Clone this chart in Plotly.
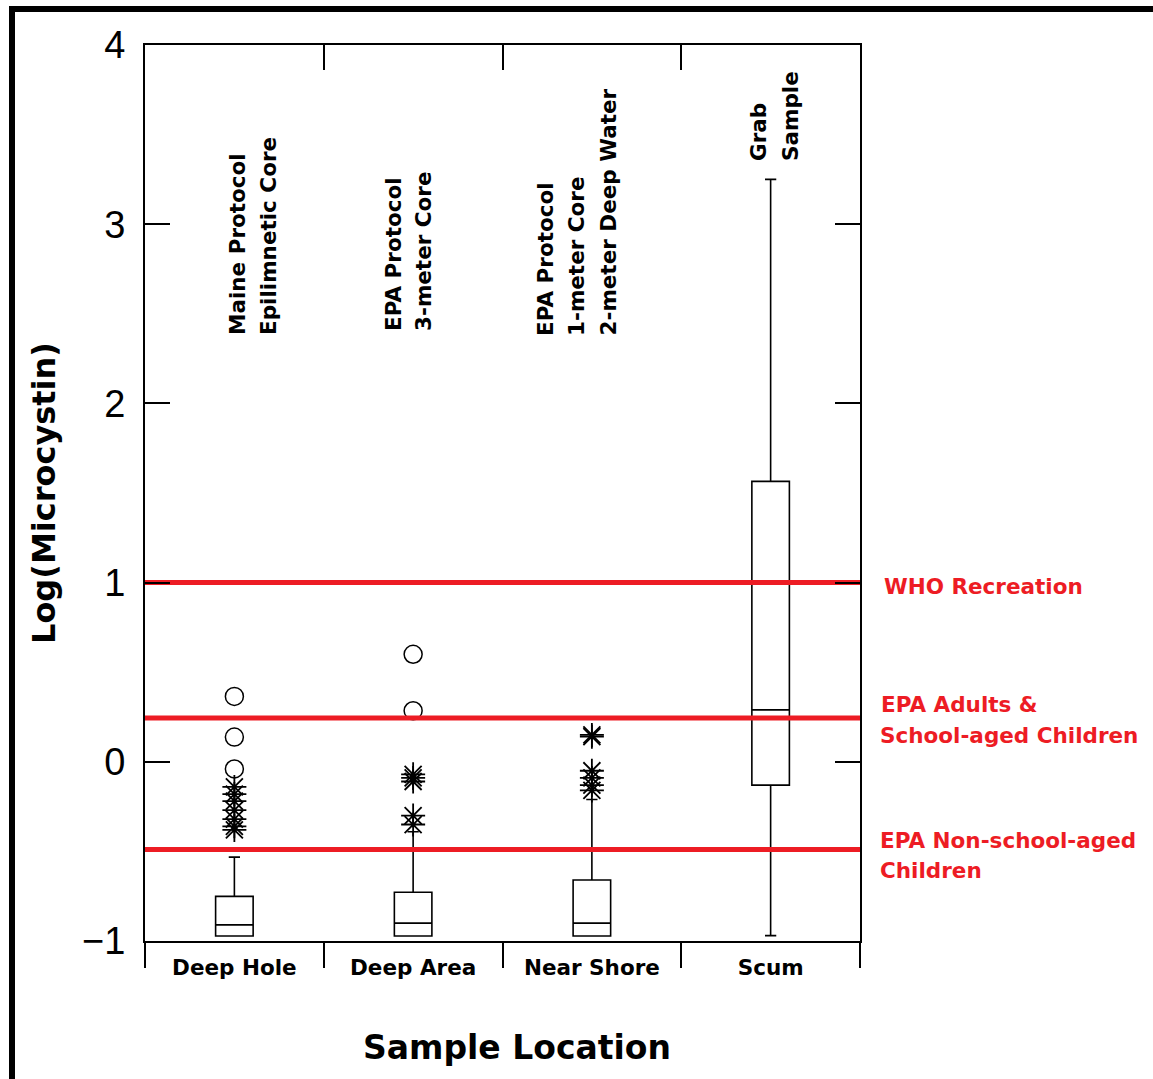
import plotly.graph_objects as go

# ---------------- data ----------------
categories = ["Deep Hole", "Deep Area", "Near Shore", "Scum"]
q1 = [-0.972, -0.972, -0.972, -0.13]
median = [-0.91, -0.90, -0.90, 0.29]
q3 = [-0.751, -0.728, -0.66, 1.565]
lower_fence = [-0.972, -0.972, -0.972, -0.97]
upper_fence = [-0.532, -0.39, -0.21, 3.25]

# far outliers (open circles)
deep_hole_far = [0.365, 0.138, -0.04]
deep_area_far = [0.60, 0.285]
# near outliers (asterisks)
deep_hole_near = [-0.14, -0.18, -0.22, -0.27, -0.32, -0.36, -0.38]
deep_area_near = [-0.07, -0.09, -0.11, -0.30, -0.35]
near_shore_near = [0.14, 0.15, -0.05, -0.09, -0.13, -0.16]

# guideline levels (log microcystin)
guide_values = [1.0, 0.245, -0.49]
guide_labels = [["WHO Recreation"],
                ["EPA Adults &", "School-aged Children"],
                ["EPA Non-school-aged", "Children"]]

protocol_labels = [["Maine Protocol", "Epilimnetic Core"],
                   ["EPA Protocol", "3-meter Core"],
                   ["EPA Protocol", "1-meter Core", "2-meter Deep Water"],
                   ["Grab", "Sample"]]

y_ticks = [-1, 0, 1, 2, 3, 4]

# ---------------- layout geometry ----------------
W, H = 1153, 1079
L, R, T, B = 145, 860, 45, 941
RED = "#ED1C24"
BOLD = "DejaVu Sans"


def px(xp):
    return (xp - L) / (R - L)


def py(yp):
    return (B - yp) / (B - T)


fig = go.Figure()

fig.add_trace(go.Box(
    x=categories, q1=q1, median=median, q3=q3,
    lowerfence=lower_fence, upperfence=upper_fence,
    boxpoints=False, width=0.21, whiskerwidth=0.3,
    line=dict(color="black", width=1.6), fillcolor="rgba(255,255,255,0)",
    showlegend=False, hoverinfo="skip"))

far_x = ["Deep Hole"] * len(deep_hole_far) + ["Deep Area"] * len(deep_area_far)
far_y = deep_hole_far + deep_area_far
fig.add_trace(go.Scatter(
    x=far_x, y=far_y, mode="markers", showlegend=False,
    marker=dict(symbol="circle-open", size=18, color="black",
                line=dict(color="black", width=1.5))))

near_x = (["Deep Hole"] * len(deep_hole_near) + ["Deep Area"] * len(deep_area_near)
          + ["Near Shore"] * len(near_shore_near))
near_y = deep_hole_near + deep_area_near + near_shore_near
fig.add_trace(go.Scatter(
    x=near_x, y=near_y, mode="markers", showlegend=False,
    marker=dict(symbol="asterisk-open", size=20, color="black",
                line=dict(color="black", width=1.8))))

for v in guide_values:
    fig.add_trace(go.Scatter(
        x=[-0.5, 3.5], y=[v, v], mode="lines", xaxis="x2", yaxis="y",
        line=dict(color=RED, width=5), showlegend=False, hoverinfo="skip"))

annotations = []
# red guideline labels
label_pos = [[(882, 586)], [(879, 704), (878, 735)], [(878, 840), (878, 870)]]
for lines, poss in zip(guide_labels, label_pos):
    for txt, (xp, yp) in zip(lines, poss):
        annotations.append(dict(
            text=txt, x=px(xp), y=py(yp), xref="paper", yref="paper",
            xanchor="left", yanchor="middle", showarrow=False,
            font=dict(family=BOLD, size=21.5, color=RED, weight="bold")))

# rotated protocol labels
col_x = [[238, 269], [393, 423], [545, 576, 608], [758, 790]]
col_bottom = [337, 333, 338, 163]
for lines, xs, yb in zip(protocol_labels, col_x, col_bottom):
    for txt, xp in zip(lines, xs):
        annotations.append(dict(
            text=txt, x=px(xp), y=py(yb), xref="paper", yref="paper",
            xanchor="center", yanchor="bottom", textangle=-90, showarrow=False,
            font=dict(family=BOLD, size=21.5, color="black", weight="bold")))

# axis titles
annotations.append(dict(
    text="Log(Microcystin)", x=px(44), y=py(493), xref="paper", yref="paper",
    xanchor="center", yanchor="middle", textangle=-90, showarrow=False,
    font=dict(family=BOLD, size=32, color="black", weight="bold")))
annotations.append(dict(
    text="Sample Location", x=px(517), y=py(1047), xref="paper", yref="paper",
    xanchor="center", yanchor="middle", showarrow=False,
    font=dict(family=BOLD, size=33, color="black", weight="bold")))

fig.update_layout(
    width=W, height=H,
    margin=dict(l=L, r=W - R, t=T, b=H - B, pad=0),
    plot_bgcolor="white", paper_bgcolor="white",
    showlegend=False,
    annotations=annotations,
    xaxis=dict(
        type="category", categoryorder="array", categoryarray=categories,
        range=[-0.5, 3.5], tickson="boundaries", ticks="outside", ticklen=25,
        tickwidth=2, tickcolor="black", showline=True, linecolor="black",
        linewidth=2, mirror=True, showgrid=False, zeroline=False,
        tickfont=dict(family=BOLD, size=21.5, color="black", weight="bold"),
        ticklabelstandoff=6),
    xaxis2=dict(
        overlaying="x", side="top", range=[-0.5, 3.5],
        tickvals=[0.5, 1.5, 2.5], ticks="inside", ticklen=25, tickwidth=2,
        tickcolor="black", showticklabels=False, showline=False,
        showgrid=False, zeroline=False),
    yaxis=dict(
        range=[-1, 4], tickvals=y_ticks, ticks="inside", ticklen=25,
        tickwidth=2, tickcolor="black", showline=True, linecolor="black",
        linewidth=2, mirror="ticks", showgrid=False, zeroline=False,
        tickfont=dict(family="Liberation Sans", size=38, color="black"),
        ticklabelstandoff=10),
    shapes=[dict(type="rect", xref="paper", yref="paper",
                 x0=px(12), x1=px(1170), y0=py(1095), y1=py(9),
                 line=dict(color="black", width=6), fillcolor="rgba(0,0,0,0)",
                 layer="above")],
)

fig.write_html(
    "out.html",
    config={"displayModeBar": False},
    post_script="document.body.style.margin='0';document.body.style.padding='0';"
                "document.body.style.overflow='hidden';",
)
